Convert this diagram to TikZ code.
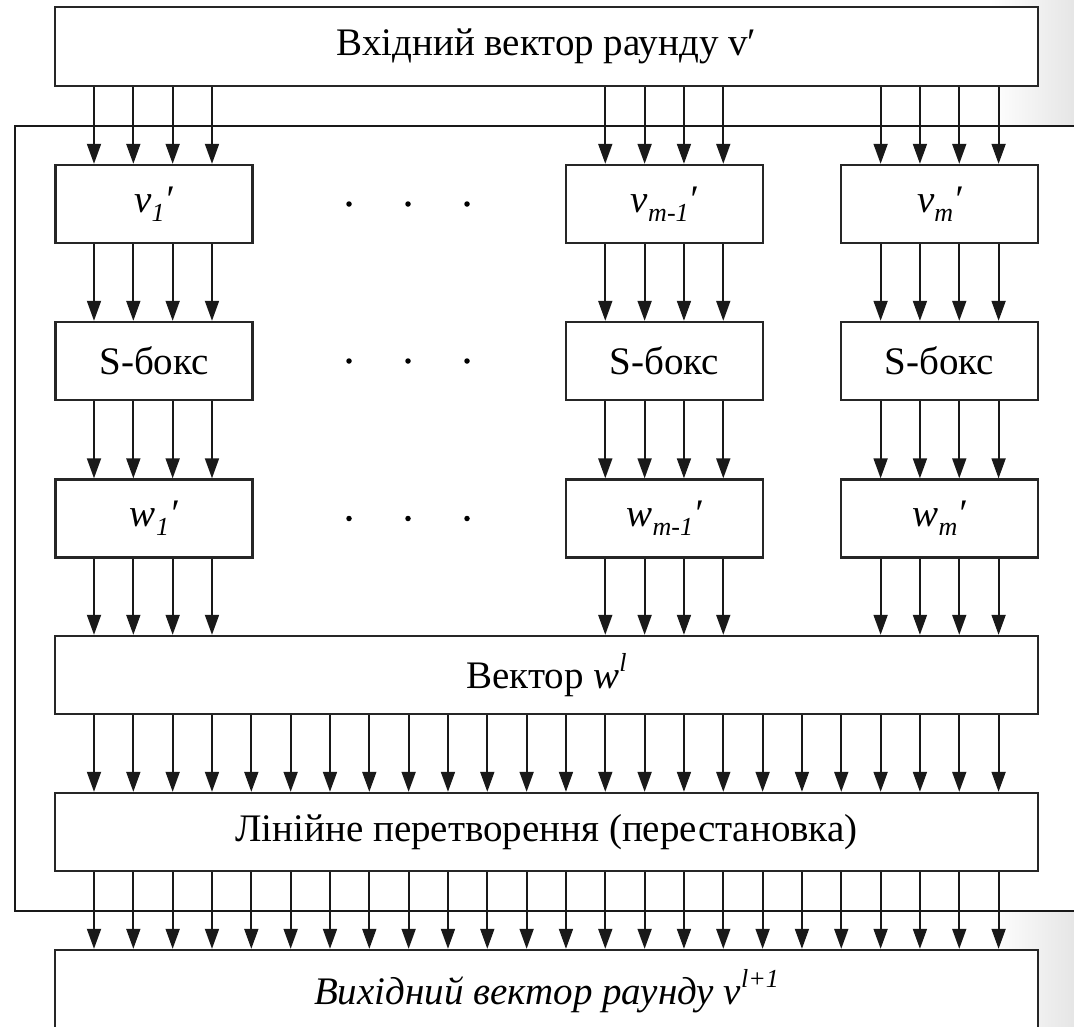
\documentclass[tikz,border=0pt]{standalone}
\usepackage{fontspec}
\setmainfont{Liberation Serif}
\usetikzlibrary{arrows.meta}
% small raised / lowered indices set in the text font
\newcommand{\lowix}[1]{\raisebox{-0.22em}{\fontsize{26}{26}\selectfont #1}}
\newcommand{\highix}[1]{\raisebox{0.45em}{\fontsize{26}{26}\selectfont #1}}
\begin{document}
\begin{tikzpicture}[x=1pt,y=-1pt,
  blk/.style={draw=black!85, line width=2.4pt, fill=white, rectangle, inner sep=0pt,
              font=\fontsize{39}{46}\selectfont},
  wide/.style={blk, minimum width=983pt, minimum height=78pt},
  cell/.style={blk, minimum width=197pt, minimum height=78pt},
  bus/.style={line width=1.8pt, draw=black!90, -{Triangle[width=14pt,length=20pt]}},
  dotmark/.style={circle, fill=black, inner sep=0pt, minimum size=5.5pt},
  framebox/.style={draw=black!90, line width=2pt, fill=white},
]
\path[use as bounding box] (0,0) rectangle (1074,1026);
\clip (0,0) rectangle (1074,1026);

% soft grey toward the right edge
\shade[left color=white, right color=black!10] (990,0) rectangle (1074,1026);

% round frame
\draw[framebox] (15,125.5) rectangle (1110,911);

% bit columns
\foreach \k in {0,...,23} \coordinate (c\k) at ({94+39.33*\k}, 0);

% whole-width blocks
\node[wide, minimum height=79pt] (top) at (546.5,46.5) {Вхідний вектор раунду v′};
\node[wide] (vec) at (546.5,675) {Вектор \textit{w}\highix{\textit{l}}};
\node[wide] (lin) at (546.5,832) {Лінійне перетворення (перестановка)};
\node[wide, minimum height=82pt] (out) at (546.5,991) {\textit{Вихідний вектор раунду v\highix{l+1}}};

% per-substitution blocks
\node[cell] (v1) at (154,204) {\textit{v\lowix{1}′}};
\node[cell] (vk) at (664.3,204) {\textit{v\lowix{m-1}′}};
\node[cell] (vm) at (939.6,204) {\textit{v\lowix{m}′}};
\node[cell] (s1) at (154,361) {S-бокс};
\node[cell] (sk) at (664.3,361) {S-бокс};
\node[cell] (sm) at (939.6,361) {S-бокс};
\node[cell] (w1) at (154,518.5) {\textit{w\lowix{1}′}};
\node[cell] (wk) at (664.3,518.5) {\textit{w\lowix{m-1}′}};
\node[cell] (wm) at (939.6,518.5) {\textit{w\lowix{m}′}};

% ellipsis dots between the first and the last blocks
\foreach \r/\y in {a/204, b/361, c/518.5}
  \foreach \i/\x in {1/349, 2/408, 3/467}
    \node[dotmark] (dot\r\i) at (\x,\y) {};

% four-bit buses through each column of blocks
\foreach \up/\dn in {top/v1, v1/s1, s1/w1, w1/vec}
  \foreach \k in {0,...,3} \draw[bus] (\up.south -| c\k) -- (\dn.north -| c\k);
\foreach \up/\dn in {top/vk, vk/sk, sk/wk, wk/vec}
  \foreach \k in {13,...,16} \draw[bus] (\up.south -| c\k) -- (\dn.north -| c\k);
\foreach \up/\dn in {top/vm, vm/sm, sm/wm, wm/vec}
  \foreach \k in {20,...,23} \draw[bus] (\up.south -| c\k) -- (\dn.north -| c\k);

% full-width buses
\foreach \k in {0,...,23} {
  \draw[bus] (vec.south -| c\k) -- (lin.north -| c\k);
  \draw[bus] (lin.south -| c\k) -- (out.north -| c\k);
}
\end{tikzpicture}
\end{document}
